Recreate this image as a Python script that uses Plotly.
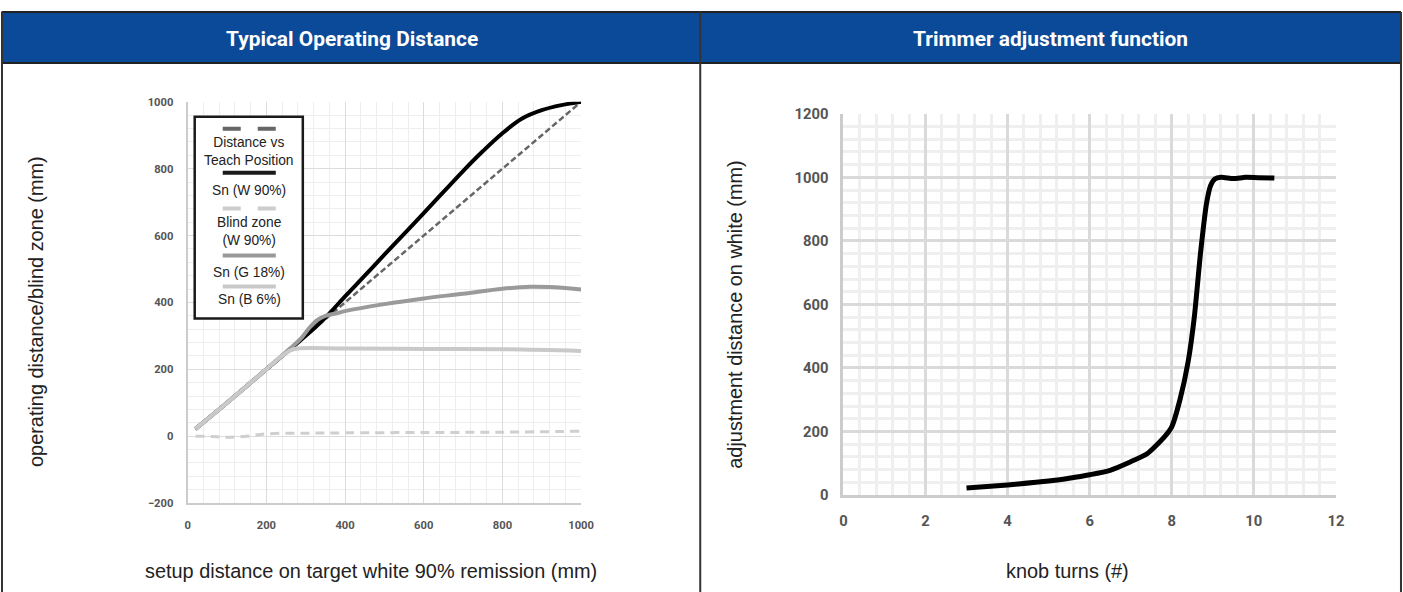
import plotly.graph_objects as go

# ---------------- data: left chart ----------------
teach_x = [20, 270, 500, 800, 1000]
teach_y = [20, 270, 500, 800, 1000]
w90_x = [20, 100, 200, 270, 300, 350, 400, 450, 500, 600, 700, 750, 800, 850, 900, 950, 1000]
w90_y = [22, 100, 200, 270, 300, 355, 418, 480, 543, 667, 793, 852, 906, 950, 975, 990, 1000]
blind_x = [20, 60, 100, 150, 200, 300, 400, 600, 800, 1000]
blind_y = [0, -1, -3, 0, 7, 9, 10, 11, 12, 15]
g18_x = [20, 100, 200, 260, 290, 310, 330, 350, 380, 400, 500, 600, 700, 800, 870, 920, 1000]
g18_y = [22, 100, 200, 262, 295, 325, 348, 360, 368, 374, 395, 412, 426, 441, 447, 446, 439]
b6_x = [20, 100, 200, 240, 260, 280, 400, 600, 800, 1000]
b6_y = [22, 100, 200, 240, 256, 262, 262, 261, 260, 255]

# ---------------- data: right chart ----------------
knob_x = [3.0, 4.0, 5.0, 5.5, 6.0, 6.5, 7.0, 7.4, 7.8, 8.0, 8.2, 8.4, 8.55, 8.7, 8.85, 8.95, 9.05, 9.2, 9.5, 9.8, 10.1, 10.5]
knob_y = [22, 32, 44, 53, 64, 78, 105, 130, 180, 215, 300, 420, 560, 760, 920, 975, 995, 1000, 996, 1000, 999, 998]

panel_titles = ["Typical Operating Distance", "Trimmer adjustment function"]
left_xtitle = "setup distance on target white 90% remission (mm)"
left_ytitle = "operating distance/blind zone (mm)"
right_xtitle = "knob turns (#)"
right_ytitle = "adjustment distance on white (mm)"
legend_labels = ["Distance vs<br>Teach Position", "Sn (W 90%)", "Blind zone<br>(W 90%)",
                 "Sn (G 18%)", "Sn (B 6%)"]

# figure size and mapping from target-picture pixels to paper fractions
W, H = 1422, 603
OX, SX, OY, SY = 4.5, 0.987, 8.0, 0.972
def px(x):
    return ((x - OX) / SX) / W
def py(y):
    return 1 - ((y - OY) / SY) / H
FS = 1.0 / ((SX + SY) / 2)

TICKF = "Roboto, sans-serif"
TXT = "Liberation Sans, Noto Sans, sans-serif"

fig = go.Figure()
fig.add_trace(go.Scatter(x=teach_x, y=teach_y, mode="lines", name="Distance vs Teach Position",
                         line=dict(color="#666666", width=2.5, dash="6px,3px"), xaxis="x", yaxis="y"))
fig.add_trace(go.Scatter(x=w90_x, y=w90_y, mode="lines", name="Sn (W 90%)", line_shape="spline",
                         line=dict(color="#000000", width=4), xaxis="x", yaxis="y"))
fig.add_trace(go.Scatter(x=g18_x, y=g18_y, mode="lines", name="Sn (G 18%)", line_shape="spline",
                         line=dict(color="#9a9a9a", width=4), xaxis="x", yaxis="y"))
fig.add_trace(go.Scatter(x=b6_x, y=b6_y, mode="lines", name="Sn (B 6%)", line_shape="spline",
                         line=dict(color="#c9c9c9", width=4), xaxis="x", yaxis="y"))
fig.add_trace(go.Scatter(x=blind_x, y=blind_y, mode="lines", name="Blind zone (W 90%)", line_shape="spline",
                         line=dict(color="#cfcfcf", width=3, dash="9px,6px"), xaxis="x", yaxis="y"))
fig.add_trace(go.Scatter(x=knob_x, y=knob_y, mode="lines", name="knob", line_shape="spline",
                         line=dict(color="#000000", width=5, smoothing=0.6), xaxis="x2", yaxis="y2"))

tick_l = dict(family=TICKF, size=11 * FS, color="#555555", weight="bold")
tick_r = dict(family=TICKF, size=14.5 * FS, color="#555555", weight="bold")

fig.update_layout(
    width=W, height=H, margin=dict(l=0, r=0, t=0, b=0),
    paper_bgcolor="white", plot_bgcolor="white", showlegend=False,
    xaxis=dict(domain=[px(188), px(581)], range=[0, 1000], tick0=0, dtick=200,
               showgrid=True, gridcolor="#dcdcdc", gridwidth=1, zeroline=False,
               minor=dict(dtick=40, showgrid=True, gridcolor="#eeeeee", gridwidth=1),
               showline=True, linecolor="#cccccc", linewidth=2, ticks="",
               tickfont=tick_l, ticklabelstandoff=10, anchor="y"),
    yaxis=dict(domain=[py(503), py(101)], range=[-200, 1000], tick0=0, dtick=200,
               showgrid=True, gridcolor="#dcdcdc", gridwidth=1, zeroline=False,
               minor=dict(dtick=40, showgrid=True, gridcolor="#eeeeee", gridwidth=1),
               showline=True, linecolor="#cccccc", linewidth=2, ticks="",
               tickfont=tick_l, ticklabelstandoff=10, anchor="x"),
    xaxis2=dict(domain=[px(843), px(1335)], range=[0, 12], tick0=0, dtick=2,
                showgrid=True, gridcolor="#dadada", gridwidth=3, zeroline=False,
                minor=dict(dtick=0.4, showgrid=True, gridcolor="#efefef", gridwidth=3),
                showline=True, linecolor="#cccccc", linewidth=3, ticks="",
                tickfont=tick_r, ticklabelstandoff=10, anchor="y2"),
    yaxis2=dict(domain=[py(495), py(113)], range=[0, 1200], tick0=0, dtick=200,
                showgrid=True, gridcolor="#dadada", gridwidth=3, zeroline=False,
                minor=dict(dtick=40, showgrid=True, gridcolor="#efefef", gridwidth=3),
                showline=True, linecolor="#cccccc", linewidth=3, ticks="",
                tickfont=tick_r, ticklabelstandoff=9, anchor="x2"),
)

shapes = []
# header band and frame
shapes.append(dict(type="rect", xref="paper", yref="paper", x0=px(2), x1=px(1400), y0=py(62), y1=py(11),
                   fillcolor="#0b4a98", line=dict(width=0), layer="above"))
for (x0, y0, x1, y1) in [(2, 11, 1400, 11), (2, 62, 1400, 62)]:
    shapes.append(dict(type="line", xref="paper", yref="paper", x0=px(x0), x1=px(x1), y0=py(y0), y1=py(y1),
                       line=dict(color="#222222", width=2), layer="above"))
for xv in [2.5, 700, 1400]:
    shapes.append(dict(type="line", xref="paper", yref="paper", x0=px(xv), x1=px(xv), y0=py(11), y1=0,
                       line=dict(color="#333333", width=2), layer="above"))

# custom legend box (swatch above its label, as in the reference)
shapes.append(dict(type="rect", xref="paper", yref="paper", x0=px(195), x1=px(303), y0=py(318), y1=py(116),
                   fillcolor="white", line=dict(color="#1a1a1a", width=2.5), layer="above"))
swatches = [(128, "#666666", "18px,17px"), (172, "#1a1a1a", "solid"), (208, "#cccccc", "18px,17px"),
            (255, "#999999", "solid"), (286, "#c9c9c9", "solid")]
for (yv, col, dash) in swatches:
    shapes.append(dict(type="line", xref="paper", yref="paper", x0=px(223), x1=px(276), y0=py(yv), y1=py(yv),
                       line=dict(color=col, width=4, dash=dash), layer="above"))
fig.update_layout(shapes=shapes)

ann = []
for txt, cx in zip(panel_titles, [352, 1050]):
    ann.append(dict(text=txt, xref="paper", yref="paper", x=px(cx), y=py(38), showarrow=False,
                    xanchor="center", yanchor="middle",
                    font=dict(family=TICKF, size=20.5 * FS, color="white", weight="bold")))
legend_y = [150.5, 190, 230.5, 272, 299]
for t, yv in zip(legend_labels, legend_y):
    ann.append(dict(text=t, xref="paper", yref="paper", x=px(249.5), y=py(yv), showarrow=False,
                    xanchor="center", yanchor="middle", font=dict(family=TXT, size=13.5 * FS, color="#222222")))
TS = 19.5 * FS
ann.append(dict(text=left_xtitle, xref="paper", yref="paper", x=px(371), y=py(571), showarrow=False,
                xanchor="center", yanchor="middle", font=dict(family=TXT, size=TS, color="#222222")))
ann.append(dict(text=right_xtitle, xref="paper", yref="paper", x=px(1067), y=py(571), showarrow=False,
                xanchor="center", yanchor="middle", font=dict(family=TXT, size=TS, color="#222222")))
ann.append(dict(text=left_ytitle, xref="paper", yref="paper", x=px(37), y=py(311), showarrow=False,
                textangle=-90, xanchor="center", yanchor="middle",
                font=dict(family=TXT, size=TS, color="#222222")))
ann.append(dict(text=right_ytitle, xref="paper", yref="paper", x=px(735), y=py(314), showarrow=False,
                textangle=-90, xanchor="center", yanchor="middle",
                font=dict(family=TXT, size=TS, color="#222222")))
fig.update_layout(annotations=ann)

js = ("var d=document.getElementById('{plot_id}');"
      "d.style.position='fixed';d.style.left='0px';d.style.top='0px';d.style.margin='0';"
      "document.documentElement.style.margin='0';document.documentElement.style.padding='0';"
      "document.documentElement.style.overflow='hidden';"
      "document.body.style.margin='0';document.body.style.padding='0';document.body.style.overflow='hidden';")
fig.write_html("out.html", config={"displayModeBar": False}, post_script=js)
